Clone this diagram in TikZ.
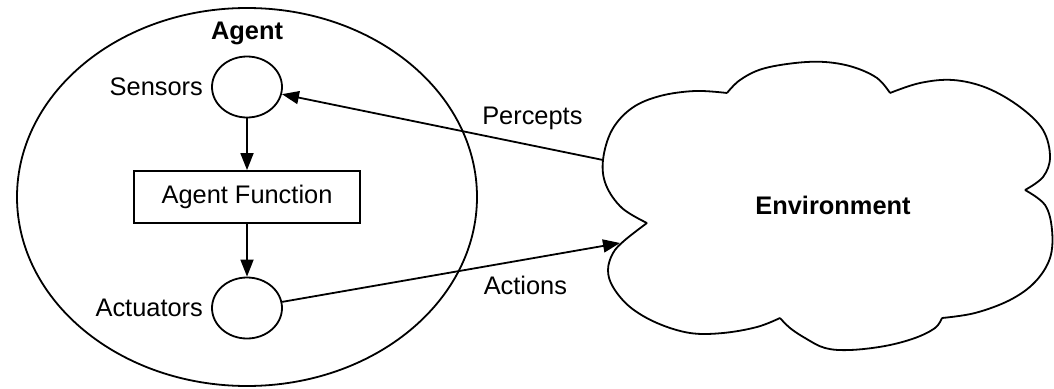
\documentclass[tikz,border=0pt]{standalone}
\usepackage{fontspec}
\setmainfont{Liberation Sans}
\usetikzlibrary{shapes.geometric,arrows.meta,positioning}
\newcommand{\diagfont}{\fontsize{25.4}{30}\selectfont}
\tikzstyle{block} = [draw, rectangle, minimum height=52pt, minimum width=226pt]
\tikzstyle{port} = [draw, ellipse, minimum height=61pt, minimum width=70pt, inner sep=0pt]
\tikzstyle{title} = [font=\diagfont\bfseries]
\tikzstyle{puff} = [smooth, tension=0.6]

\begin{document}
\begin{tikzpicture}[x=1pt, y=-1pt, line width=1.8pt, >={Triangle[length=17pt,width=13pt]}, font=\diagfont]
\useasboundingbox (0,0) rectangle (1054,388);

\node [draw, ellipse, minimum width=460pt, minimum height=378pt, inner sep=0pt] (agent) at (247,197) {};
\node [block] (function) at (247,197) {Agent Function};
\node [port, above of=function, node distance=110pt] (sensors) {};
\node [port, below of=function, node distance=111pt] (actuators) {};
\node [title, above of=sensors, node distance=54pt] (agentlabel) {Agent};
\node [left=4pt of sensors] (sensorslabel) {Sensors};
\node [left=4pt of actuators] (actuatorslabel) {Actuators};

% environment cloud
\draw plot [puff] coordinates {(647,223) (622,208) (606,185) (603,160) (612,130) (632,108) (660,96) (695,91) (727,93)}
      plot [puff] coordinates {(727,93) (740,80) (762,69) (795,63) (825,62) (853,67) (877,78) (890,93)}
      plot [puff] coordinates {(890,93) (920,83) (953,80) (987,88) (1020,107) (1043,130) (1050,157) (1043,177) (1025,190)}
      plot [puff] coordinates {(1025,190) (1045,205) (1052,230) (1050,258) (1035,282) (1010,300) (975,313) (942,318)}
      plot [puff] coordinates {(942,318) (935,328) (915,338) (885,346) (850,350) (825,348) (805,338) (790,328) (780,318)}
      plot [puff] coordinates {(780,318) (757,327) (723,333) (690,333) (657,323) (630,307) (613,287) (608,270) (613,253) (625,240) (647,223)};
\node [title] (env) at (833,205) {Environment};
\coordinate (envin) at (603,160);
\coordinate (envout) at (620,243);

\draw [->] (sensors) -- (function);
\draw [->] (function) -- (actuators);
\draw [->] (envin) -- node [pos=0.22, above=12pt] {Percepts} (sensors);
\draw [->] (actuators) -- node [pos=0.72, below=12pt] {Actions} (envout);

\end{tikzpicture}
\end{document}
